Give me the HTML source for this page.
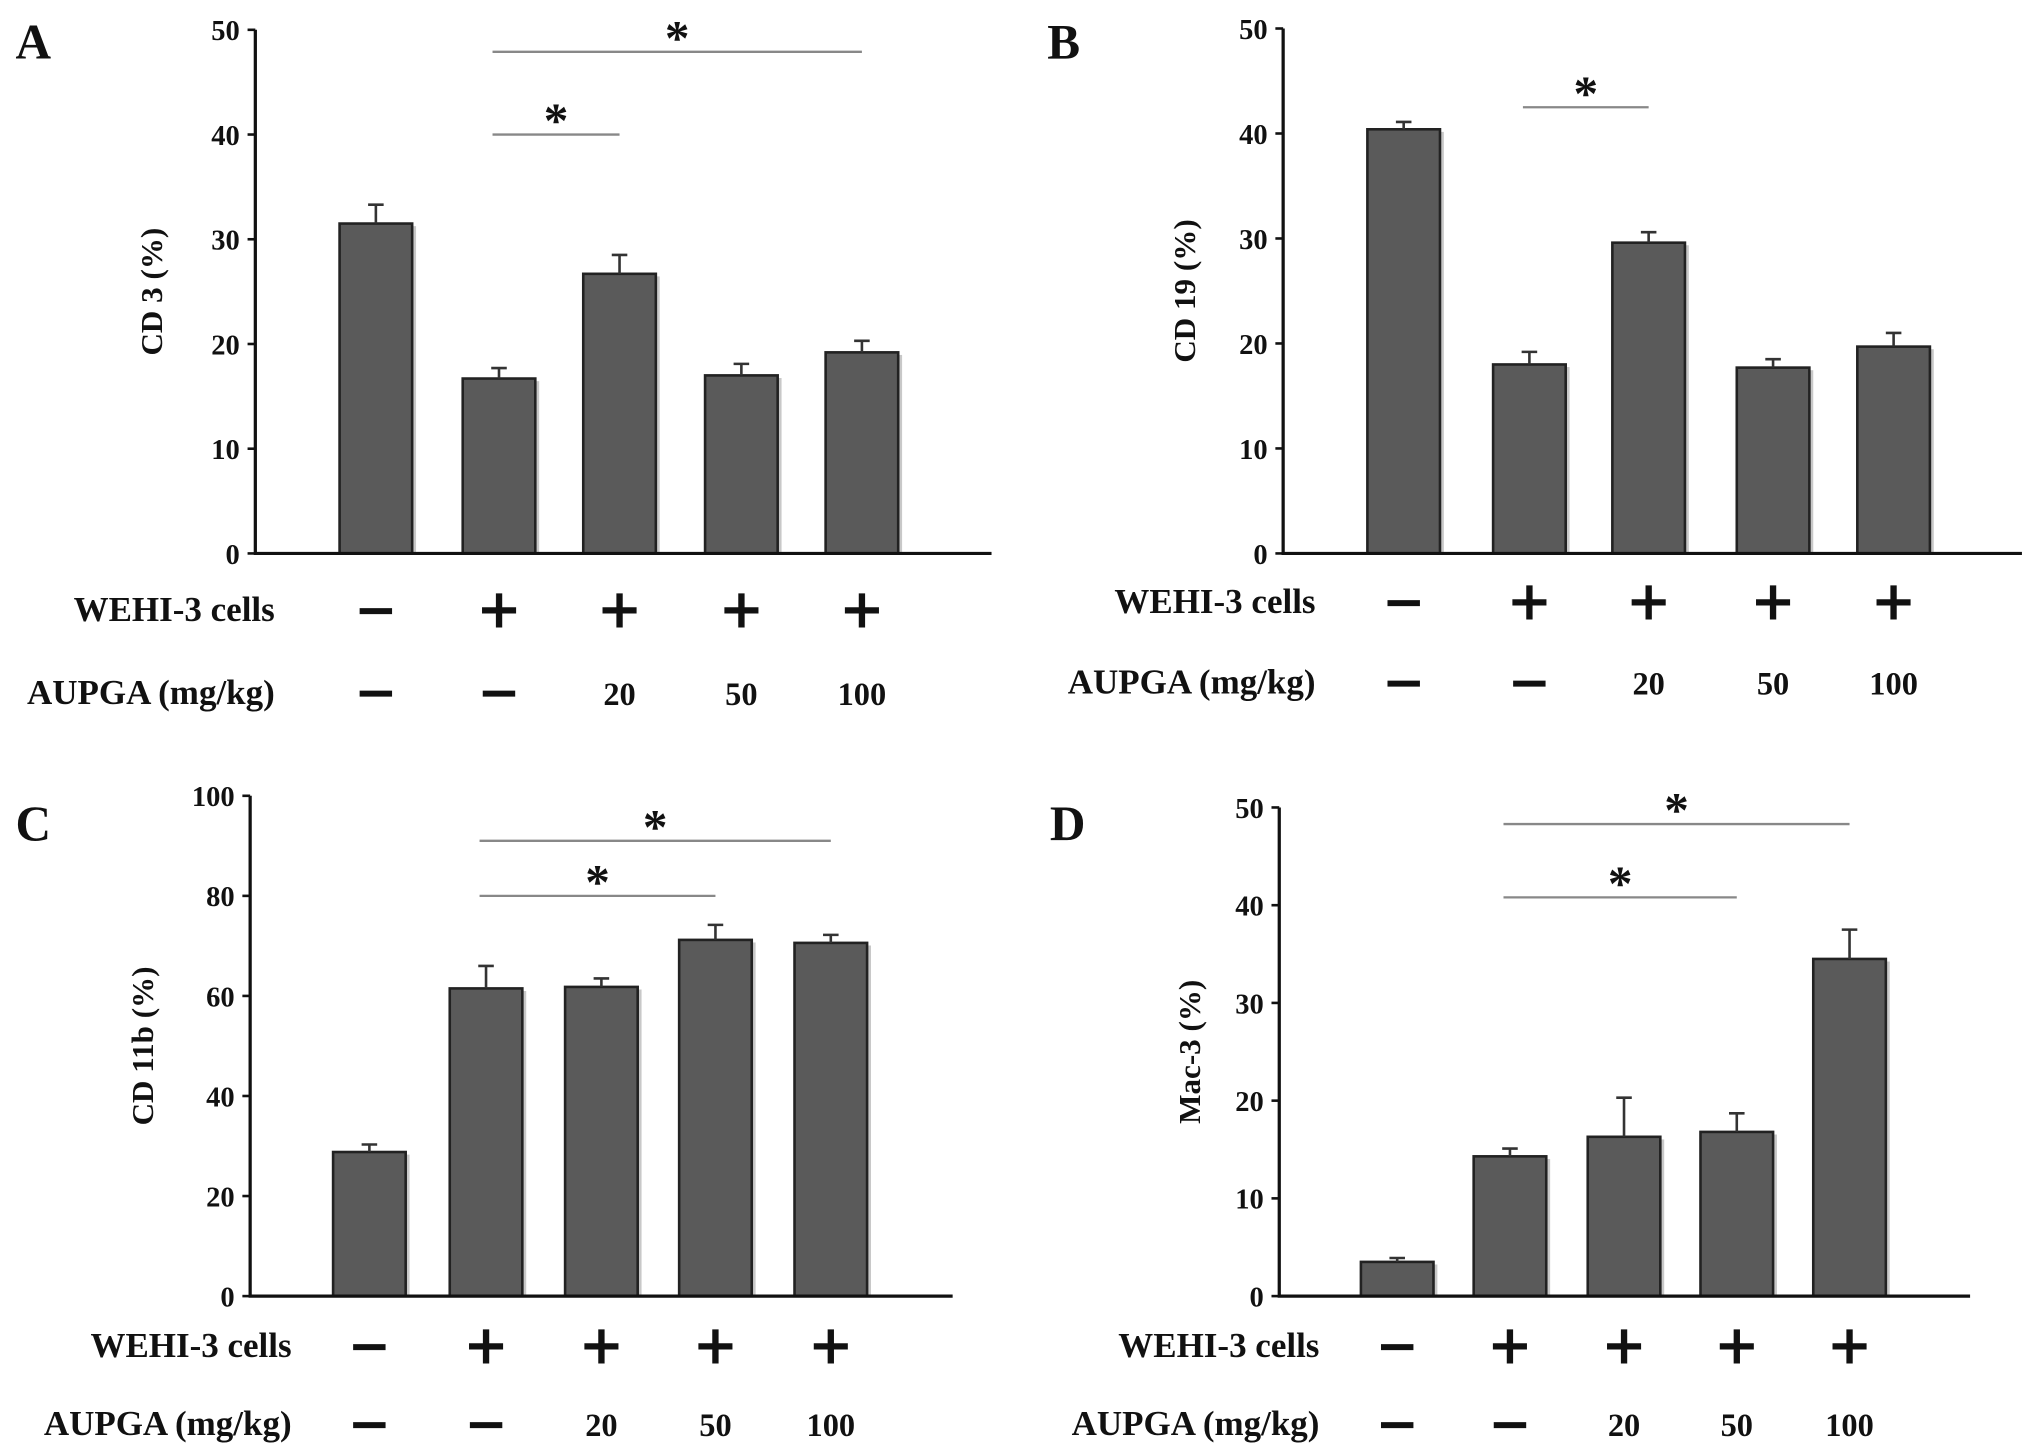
<!DOCTYPE html>
<html><head><meta charset="utf-8"><style>
html,body{margin:0;padding:0;background:#fff;}
svg{display:block;}
text{font-family:"Liberation Serif",serif;font-weight:bold;fill:#111;}
</style></head><body>
<svg id="fig" width="2031" height="1455" viewBox="0 0 1567 1122.6" preserveAspectRatio="none" xmlns="http://www.w3.org/2000/svg"></svg>
<script>
const groups=["control","WEHI-3","WEHI-3+20","WEHI-3+50","WEHI-3+100"];
const wehiSigns=["−","+","+","+","+"];
const aupgaLabels=["−","−","20","50","100"];
const cd3Values=[31.5,16.7,26.7,17.0,19.2];
const cd3Errors=[1.8,1.0,1.8,1.1,1.1];
const cd19Values=[40.4,18.0,29.6,17.7,19.7];
const cd19Errors=[0.7,1.2,1.0,0.8,1.3];
const cd11bValues=[28.8,61.5,61.8,71.2,70.6];
const cd11bErrors=[1.5,4.5,1.7,3.0,1.6];
const mac3Values=[3.5,14.3,16.3,16.8,34.5];
const mac3Errors=[0.4,0.8,4.0,1.9,3.0];
const ticks50=[0,10,20,30,40,50];
const ticks100=[0,20,40,60,80,100];

const NS="http://www.w3.org/2000/svg";
const svg=document.getElementById('fig');
function mk(tag,attrs,parent){const e=document.createElementNS(NS,tag);for(const k in attrs)e.setAttribute(k,attrs[k]);(parent||svg).appendChild(e);return e;}

const panels=[
 {key:"a",letter:"A",lx:12,ly:45,ax:197,axEnd:765,y0:427,yTop:23,max:50,ticks:ticks50,vals:cd3Values,errs:cd3Errors,xs:[290,385,478,572,665],ylab:"CD 3 (%)",ylx:125,
  sig:[[1,2,40],[1,4,47.9]],rowY1:470,rowY2:534,labX:212},
 {key:"b",letter:"B",lx:808,ly:45,ax:990,axEnd:1560,y0:427,yTop:22,max:50,ticks:ticks50,vals:cd19Values,errs:cd19Errors,xs:[1083,1180,1272,1368,1461],ylab:"CD 19 (%)",ylx:922,
  sig:[[1,2,42.5]],rowY1:464,rowY2:526,labX:1015},
 {key:"c",letter:"C",lx:12,ly:648,ax:193,axEnd:735,y0:1000,yTop:614,max:100,ticks:ticks100,vals:cd11bValues,errs:cd11bErrors,xs:[285,375,464,552,641],ylab:"CD 11b (%)",ylx:118,
  sig:[[1,3,80],[1,4,91]],rowY1:1038,rowY2:1098,labX:225},
 {key:"d",letter:"D",lx:810,ly:648,ax:987,axEnd:1520,y0:1000,yTop:623,max:50,ticks:ticks50,vals:mac3Values,errs:mac3Errors,xs:[1078,1165,1253,1340,1427],ylab:"Mac-3 (%)",ylx:926,
  sig:[[1,3,40.8],[1,4,48.3]],rowY1:1038,rowY2:1098,labX:1018}
];

panels.forEach(p=>{
  const g=mk('g',{});
  
  
  const Y=v=>p.y0-(v/p.max)*(p.y0-p.yTop);
  const L=mk('text',{x:p.lx,y:p.ly,'font-size':38},g);L.textContent=p.letter;
  
  
  p.vals.forEach((v,i)=>{
    const x=p.xs[i],w=56;
    const sh=mk('rect',{x:x-w/2+3,y:Y(v)+2,width:w,height:p.y0-Y(v)-2,fill:'#c8c8c8'},g);
    
    
    const b=mk('rect',{x:x-w/2,y:Y(v),width:w,height:p.y0-Y(v),fill:'#5a5a5a',stroke:'#222','stroke-width':2},g);
    
    
    const e=p.errs[i];
    const el=mk('path',{d:`M${x} ${Y(v)} V${Y(v+e)} M${x-6} ${Y(v+e)} H${x+6}`,stroke:'#333','stroke-width':2,fill:'none'},g);
    
    
  });
  const ax=mk('path',{d:`M${p.ax} ${p.yTop} V${p.y0} H${p.axEnd}`,stroke:'#111','stroke-width':2.5,fill:'none'},g);
  
  
  p.ticks.forEach(t=>{
    const tk=mk('line',{x1:p.ax-6,x2:p.ax,y1:Y(t),y2:Y(t),stroke:'#111','stroke-width':2},g);
    
    
    const tl=mk('text',{x:p.ax-12,y:Y(t)+8,'font-size':22,'text-anchor':'end'},g);
    tl.textContent=t;
    
    
  });
  const yl=mk('text',{x:p.ylx,y:(p.y0+p.yTop)/2,'font-size':24,'text-anchor':'middle',transform:`rotate(-90 ${p.ylx} ${(p.y0+p.yTop)/2})`},g);
  yl.textContent=p.ylab;
  
  
  p.sig.forEach(s=>{
    const x1=p.xs[s[0]]-5,x2=p.xs[s[1]];
    const ln=mk('line',{x1:x1,x2:x2,y1:Y(s[2]),y2:Y(s[2]),stroke:'#888','stroke-width':1.8},g);
    
    
    const st=mk('text',{x:(x1+x2)/2,y:Y(s[2])+2,'font-size':38,'text-anchor':'middle'},g);
    st.textContent='*';
    
    
  });
  const r1=mk('text',{x:p.labX,y:p.rowY1+9,'font-size':27,'text-anchor':'end'},g);
  r1.textContent='WEHI-3 cells';
  
  
  const r2=mk('text',{x:p.labX,y:p.rowY2+9,'font-size':27,'text-anchor':'end'},g);
  r2.textContent='AUPGA (mg/kg)';
  
  
  p.xs.forEach((x,i)=>{
    const s1=mk('text',{x:x,y:p.rowY1+14,'font-size':wehiSigns[i]=='+'?42:40,'text-anchor':'middle',style:'font-family:"DejaVu Sans",sans-serif;font-weight:900'},g);
    s1.textContent=wehiSigns[i];
    
    
    const isDash=aupgaLabels[i]=='−';
    const s2=mk('text',{x:x,y:p.rowY2+(isDash?14:10),'font-size':isDash?40:25,'text-anchor':'middle',style:isDash?'font-family:"DejaVu Sans",sans-serif;font-weight:900':''},g);
    s2.textContent=aupgaLabels[i];
    
    
  });
});
</script>
</body></html>
